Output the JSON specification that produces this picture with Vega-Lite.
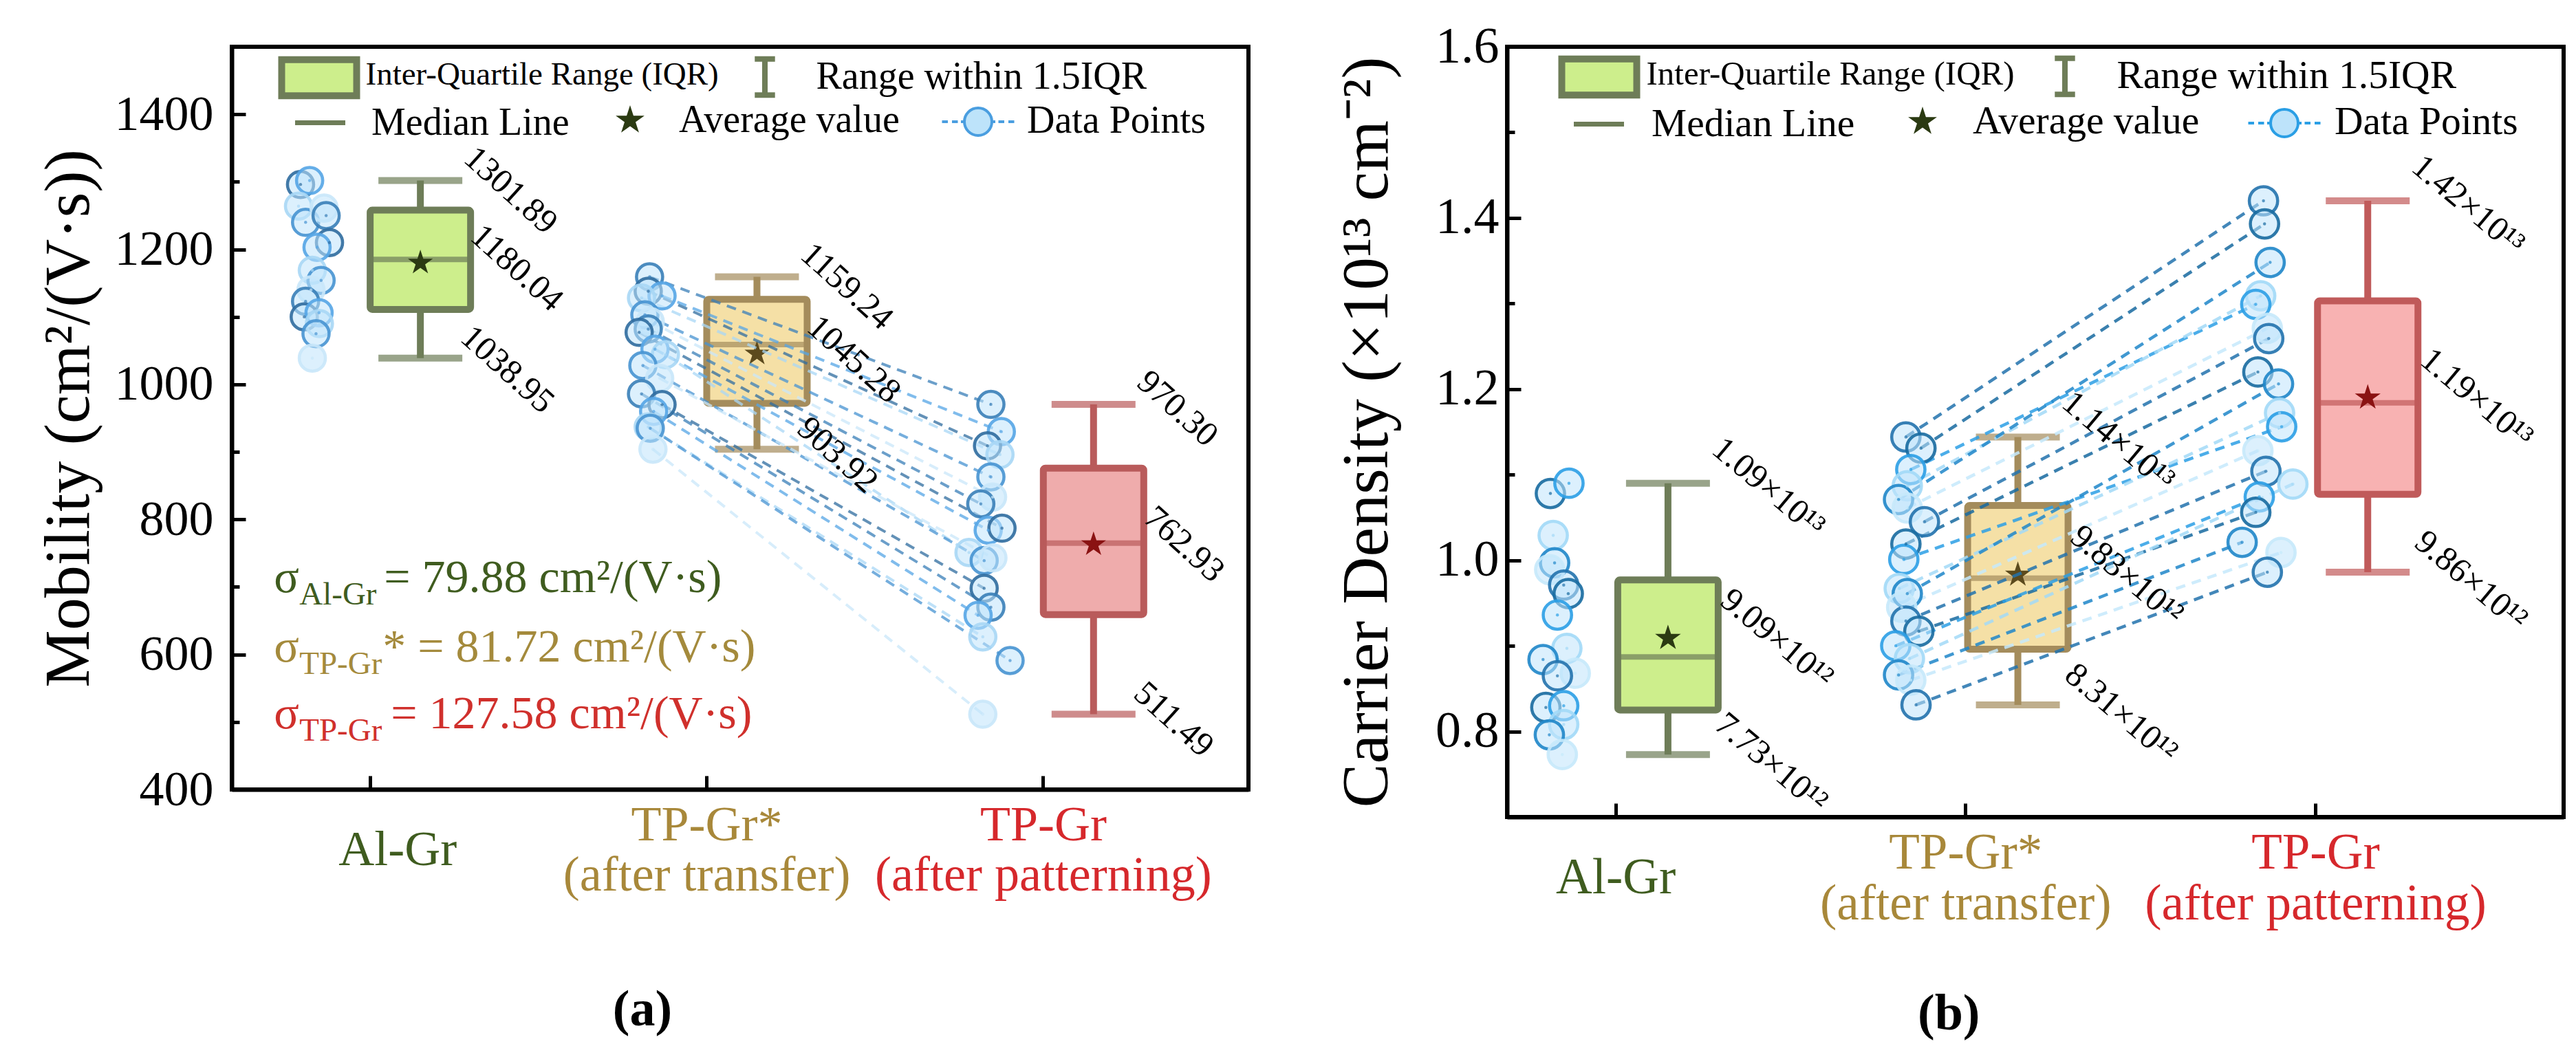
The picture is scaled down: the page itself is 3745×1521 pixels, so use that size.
{
  "$schema": "https://vega.github.io/schema/vega-lite/v6.json",
  "background": "white",
  "padding": {"left": 50, "top": 28, "right": 5, "bottom": 5},
  "bounds": "flush",
  "spacing": 376,
  "config": {
    "font": "Liberation Serif",
    "view": {"stroke": "black", "strokeWidth": 6},
    "axis": {"labelFont": "Liberation Serif", "titleFont": "Liberation Serif", "titleFontWeight": "normal", "grid": false, "domainColor": "black", "domainWidth": 6, "tickColor": "black", "tickWidth": 5, "labelColor": "black", "titleColor": "black", "labelFlush": false, "labelOverlap": false, "labelBound": false, "labelLimit": 3000},
    "legend": {"labelFont": "Liberation Serif", "labelColor": "black", "labelLimit": 3000, "padding": 0, "symbolOpacity": 1},
    "title": {"font": "Liberation Serif", "color": "black"},
    "text": {"font": "Liberation Serif"}
  },
  "datasets": {
    "sa": [
      {"g": 1, "grp": "Al-Gr", "min": 1038.95, "q1": 1111, "med": 1185, "q3": 1258, "max": 1301.89, "mean": 1180.04, "tmin": "1038.95", "tmean": "1180.04", "tmax": "1301.89"},
      {"g": 2, "grp": "TP-Gr*", "min": 903.92, "q1": 972, "med": 1059, "q3": 1126, "max": 1159.24, "mean": 1045.28, "tmin": "903.92", "tmean": "1045.28", "tmax": "1159.24"},
      {"g": 3, "grp": "TP-Gr", "min": 511.49, "q1": 659, "med": 765, "q3": 876, "max": 970.30, "mean": 762.93, "tmin": "511.49", "tmean": "762.93", "tmax": "970.30"}
    ],
    "sb": [
      {"g": 1, "grp": "Al-Gr", "min": 0.773, "q1": 0.825, "med": 0.887, "q3": 0.977, "max": 1.09, "mean": 0.909, "tmin": "7.73×10¹²", "tmean": "9.09×10¹²", "tmax": "1.09×10¹³"},
      {"g": 2, "grp": "TP-Gr*", "min": 0.831, "q1": 0.896, "med": 0.979, "q3": 1.064, "max": 1.144, "mean": 0.983, "tmin": "8.31×10¹²", "tmean": "9.83×10¹²", "tmax": "1.14×10¹³"},
      {"g": 3, "grp": "TP-Gr", "min": 0.986, "q1": 1.077, "med": 1.184, "q3": 1.303, "max": 1.42, "mean": 1.19, "tmin": "9.86×10¹²", "tmean": "1.19×10¹³", "tmax": "1.42×10¹³"}
    ],
    "sig": [
      {"grp": "Al-Gr", "sub": "Al-Gr", "rest": "= 79.88 cm²/(V·s)"},
      {"grp": "TP-Gr*", "sub": "TP-Gr", "rest": "* = 81.72 cm²/(V·s)"},
      {"grp": "TP-Gr", "sub": "TP-Gr", "rest": "= 127.58 cm²/(V·s)"}
    ],
    "leg": [{"k": "Inter-Quartile Range (IQR)"}, {"k": "Range within 1.5IQR"}, {"k": "Median Line"}, {"k": "Average value"}, {"k": "Data Points"}],
    "pa": [
      {"grp": "Al-Gr", "id": "A01", "x": 0.644, "v": 1296},
      {"grp": "Al-Gr", "id": "A02", "x": 0.671, "v": 1301.89},
      {"grp": "Al-Gr", "id": "A03", "x": 0.638, "v": 1264},
      {"grp": "Al-Gr", "id": "A04", "x": 0.659, "v": 1240},
      {"grp": "Al-Gr", "id": "A05", "x": 0.714, "v": 1261},
      {"grp": "Al-Gr", "id": "A06", "x": 0.72, "v": 1250},
      {"grp": "Al-Gr", "id": "A07", "x": 0.73, "v": 1210},
      {"grp": "Al-Gr", "id": "A08", "x": 0.693, "v": 1203},
      {"grp": "Al-Gr", "id": "A09", "x": 0.679, "v": 1169},
      {"grp": "Al-Gr", "id": "A10", "x": 0.705, "v": 1154},
      {"grp": "Al-Gr", "id": "A11", "x": 0.675, "v": 1140},
      {"grp": "Al-Gr", "id": "A12", "x": 0.659, "v": 1123},
      {"grp": "Al-Gr", "id": "A13", "x": 0.655, "v": 1100},
      {"grp": "Al-Gr", "id": "A14", "x": 0.699, "v": 1106},
      {"grp": "Al-Gr", "id": "A15", "x": 0.70, "v": 1090},
      {"grp": "Al-Gr", "id": "A16", "x": 0.69, "v": 1075},
      {"grp": "Al-Gr", "id": "A17", "x": 0.679, "v": 1038.95},
      {"grp": "TP-Gr*", "id": "P01", "x": 1.681, "v": 1159.24},
      {"grp": "TP-Gr*", "id": "P02", "x": 1.677, "v": 1138},
      {"grp": "TP-Gr*", "id": "P03", "x": 1.718, "v": 1131},
      {"grp": "TP-Gr*", "id": "P04", "x": 1.657, "v": 1128},
      {"grp": "TP-Gr*", "id": "P05", "x": 1.667, "v": 1103},
      {"grp": "TP-Gr*", "id": "P06", "x": 1.683, "v": 1093},
      {"grp": "TP-Gr*", "id": "P07", "x": 1.677, "v": 1082},
      {"grp": "TP-Gr*", "id": "P08", "x": 1.650, "v": 1077},
      {"grp": "TP-Gr*", "id": "P09", "x": 1.697, "v": 1052},
      {"grp": "TP-Gr*", "id": "P10", "x": 1.728, "v": 1044},
      {"grp": "TP-Gr*", "id": "P11", "x": 1.661, "v": 1028},
      {"grp": "TP-Gr*", "id": "P12", "x": 1.711, "v": 1009},
      {"grp": "TP-Gr*", "id": "P13", "x": 1.657, "v": 986},
      {"grp": "TP-Gr*", "id": "P14", "x": 1.718, "v": 970},
      {"grp": "TP-Gr*", "id": "P15", "x": 1.693, "v": 960},
      {"grp": "TP-Gr*", "id": "P16", "x": 1.677, "v": 937},
      {"grp": "TP-Gr*", "id": "P17", "x": 1.683, "v": 935},
      {"grp": "TP-Gr*", "id": "P18", "x": 1.691, "v": 903.92},
      {"grp": "TP-Gr", "id": "P01", "x": 2.695, "v": 970.30},
      {"grp": "TP-Gr", "id": "P03", "x": 2.726, "v": 930},
      {"grp": "TP-Gr", "id": "P02", "x": 2.685, "v": 909},
      {"grp": "TP-Gr", "id": "P04", "x": 2.722, "v": 896},
      {"grp": "TP-Gr", "id": "P05", "x": 2.695, "v": 863},
      {"grp": "TP-Gr", "id": "P06", "x": 2.70, "v": 833},
      {"grp": "TP-Gr", "id": "P07", "x": 2.665, "v": 823},
      {"grp": "TP-Gr", "id": "P09", "x": 2.687, "v": 784},
      {"grp": "TP-Gr", "id": "P08", "x": 2.728, "v": 787},
      {"grp": "TP-Gr", "id": "P10", "x": 2.630, "v": 751},
      {"grp": "TP-Gr", "id": "P11", "x": 2.675, "v": 739},
      {"grp": "TP-Gr", "id": "P12", "x": 2.701, "v": 743},
      {"grp": "TP-Gr", "id": "P14", "x": 2.675, "v": 698},
      {"grp": "TP-Gr", "id": "P13", "x": 2.695, "v": 670},
      {"grp": "TP-Gr", "id": "P15", "x": 2.657, "v": 658},
      {"grp": "TP-Gr", "id": "P16", "x": 2.671, "v": 626},
      {"grp": "TP-Gr", "id": "P17", "x": 2.752, "v": 591},
      {"grp": "TP-Gr", "id": "P18", "x": 2.671, "v": 511.49}
    ],
    "pb": [
      {"grp": "Al-Gr", "id": "B01", "x": 0.664, "v": 1.078},
      {"grp": "Al-Gr", "id": "B02", "x": 0.717, "v": 1.09},
      {"grp": "Al-Gr", "id": "B03", "x": 0.672, "v": 1.029},
      {"grp": "Al-Gr", "id": "B04", "x": 0.676, "v": 0.997},
      {"grp": "Al-Gr", "id": "B05", "x": 0.662, "v": 0.989},
      {"grp": "Al-Gr", "id": "B06", "x": 0.702, "v": 0.971},
      {"grp": "Al-Gr", "id": "B07", "x": 0.715, "v": 0.961},
      {"grp": "Al-Gr", "id": "B08", "x": 0.684, "v": 0.936},
      {"grp": "Al-Gr", "id": "B09", "x": 0.711, "v": 0.897},
      {"grp": "Al-Gr", "id": "B10", "x": 0.643, "v": 0.884},
      {"grp": "Al-Gr", "id": "B11", "x": 0.735, "v": 0.868},
      {"grp": "Al-Gr", "id": "B12", "x": 0.684, "v": 0.865},
      {"grp": "Al-Gr", "id": "B13", "x": 0.651, "v": 0.828},
      {"grp": "Al-Gr", "id": "B14", "x": 0.702, "v": 0.830},
      {"grp": "Al-Gr", "id": "B15", "x": 0.702, "v": 0.808},
      {"grp": "Al-Gr", "id": "B16", "x": 0.661, "v": 0.796},
      {"grp": "Al-Gr", "id": "B17", "x": 0.698, "v": 0.773},
      {"grp": "TP-Gr*", "id": "Q01", "x": 1.680, "v": 1.144},
      {"grp": "TP-Gr*", "id": "Q02", "x": 1.723, "v": 1.131},
      {"grp": "TP-Gr*", "id": "Q03", "x": 1.694, "v": 1.106},
      {"grp": "TP-Gr*", "id": "Q04", "x": 1.684, "v": 1.087},
      {"grp": "TP-Gr*", "id": "Q05", "x": 1.659, "v": 1.071},
      {"grp": "TP-Gr*", "id": "Q06", "x": 1.684, "v": 1.061},
      {"grp": "TP-Gr*", "id": "Q07", "x": 1.733, "v": 1.045},
      {"grp": "TP-Gr*", "id": "Q08", "x": 1.680, "v": 1.019},
      {"grp": "TP-Gr*", "id": "Q09", "x": 1.674, "v": 1.001},
      {"grp": "TP-Gr*", "id": "Q10", "x": 1.661, "v": 0.967},
      {"grp": "TP-Gr*", "id": "Q11", "x": 1.684, "v": 0.961},
      {"grp": "TP-Gr*", "id": "Q12", "x": 1.668, "v": 0.945},
      {"grp": "TP-Gr*", "id": "Q13", "x": 1.680, "v": 0.929},
      {"grp": "TP-Gr*", "id": "Q14", "x": 1.717, "v": 0.917},
      {"grp": "TP-Gr*", "id": "Q15", "x": 1.651, "v": 0.900},
      {"grp": "TP-Gr*", "id": "Q16", "x": 1.690, "v": 0.885},
      {"grp": "TP-Gr*", "id": "Q17", "x": 1.659, "v": 0.866},
      {"grp": "TP-Gr*", "id": "Q18", "x": 1.694, "v": 0.860},
      {"grp": "TP-Gr*", "id": "Q19", "x": 1.709, "v": 0.831},
      {"grp": "TP-Gr", "id": "Q01", "x": 2.702, "v": 1.42},
      {"grp": "TP-Gr", "id": "Q02", "x": 2.705, "v": 1.393},
      {"grp": "TP-Gr", "id": "Q05", "x": 2.721, "v": 1.348},
      {"grp": "TP-Gr", "id": "Q04", "x": 2.694, "v": 1.309},
      {"grp": "TP-Gr", "id": "Q03", "x": 2.680, "v": 1.299},
      {"grp": "TP-Gr", "id": "Q06", "x": 2.713, "v": 1.271},
      {"grp": "TP-Gr", "id": "Q07", "x": 2.717, "v": 1.259},
      {"grp": "TP-Gr", "id": "Q08", "x": 2.686, "v": 1.220},
      {"grp": "TP-Gr", "id": "Q11", "x": 2.745, "v": 1.206},
      {"grp": "TP-Gr", "id": "Q10", "x": 2.748, "v": 1.172},
      {"grp": "TP-Gr", "id": "Q09", "x": 2.754, "v": 1.156},
      {"grp": "TP-Gr", "id": "Q12", "x": 2.686, "v": 1.128},
      {"grp": "TP-Gr", "id": "Q13", "x": 2.709, "v": 1.104},
      {"grp": "TP-Gr", "id": "Q16", "x": 2.786, "v": 1.089},
      {"grp": "TP-Gr", "id": "Q15", "x": 2.690, "v": 1.074},
      {"grp": "TP-Gr", "id": "Q14", "x": 2.680, "v": 1.056},
      {"grp": "TP-Gr", "id": "Q17", "x": 2.641, "v": 1.021},
      {"grp": "TP-Gr", "id": "Q18", "x": 2.752, "v": 1.009},
      {"grp": "TP-Gr", "id": "Q19", "x": 2.713, "v": 0.986}
    ]
  },
  "hconcat": [
    {
      "width": 1478,
      "height": 1080,
      "title": {"text": "(a)", "orient": "bottom", "frame": "bounds", "anchor": "middle", "fontSize": 74, "fontWeight": "bold", "offset": 125},
      "resolve": {"scale": {"fill": "independent", "stroke": "independent", "color": "independent", "shape": "independent"}, "legend": {"shape": "independent"}},
      "layer": [
        {
          "data": {"name": "sa"},
          "mark": {"type": "rule", "strokeWidth": 10},
          "encoding": {
            "x": {"field": "g", "type": "quantitative", "scale": {"domain": [0.45, 3.45], "nice": false, "zero": false},
              "axis": {"values": [0.85, 1.85, 2.85], "title": null, "tickSize": -20, "labelFont": "Liberation Serif", "labelFontSize": 72, "labelLineHeight": 73, "labelBaseline": "middle", "labelLimit": 3000,
                "labelPadding": {"condition": {"test": "datum.value < 1.5", "value": 107}, "value": 71},
                "labelExpr": "datum.value < 1.5 ? 'Al-Gr' : datum.value < 2.5 ? ['TP-Gr*', '(after transfer)'] : ['TP-Gr', '(after patterning)']",
                "labelColor": {"condition": [{"test": "datum.value < 1.5", "value": "#3f5c1f"}, {"test": "datum.value < 2.5", "value": "#a8883a"}], "value": "#d6282c"},
                "labelOffset": {"condition": {"test": "datum.value < 1.5", "value": 40}, "value": 0}}},
            "y": {"field": "min", "type": "quantitative", "scale": {"domain": [400, 1500], "nice": false, "zero": false},
              "axis": {"values": [400, 500, 600, 700, 800, 900, 1000, 1100, 1200, 1300, 1400], "format": "d", "labelExpr": "datum.value % 200 === 0 ? datum.label : ''",
                "title": "Mobility (cm²/(V·s))", "titleFont": "Liberation Serif", "titleFontSize": 94, "titlePadding": 18, "labelFont": "Liberation Serif", "labelFontSize": 72,
                "tickSize": {"condition": {"test": "datum.value % 200 !== 0", "value": -11}, "value": -20}, "labelPadding": 47}},
            "y2": {"field": "max"},
            "stroke": {"field": "grp", "type": "nominal", "scale": {"domain": ["Al-Gr", "TP-Gr*", "TP-Gr"], "range": ["#6e7d58", "#a48c5c", "#b95b5b"]}, "legend": null}
          }
        },
        {
          "data": {"name": "sa"},
          "mark": {"type": "bar", "width": 146, "strokeWidth": 10, "cornerRadius": 3},
          "encoding": {
            "x": {"field": "g", "type": "quantitative"},
            "y": {"field": "q1", "type": "quantitative", "scale": {"zero": false}},
            "y2": {"field": "q3"},
            "fill": {"field": "grp", "type": "nominal", "scale": {"domain": ["Al-Gr", "TP-Gr*", "TP-Gr"], "range": ["#cdee8c", "#f5e0a6", "#efacac"]}, "legend": null},
            "stroke": {"field": "grp", "type": "nominal", "scale": {"domain": ["Al-Gr", "TP-Gr*", "TP-Gr"], "range": ["#6e7d58", "#a48c5c", "#b95b5b"]}, "legend": null}
          }
        },
        {
          "data": {"name": "sa"},
          "mark": {"type": "tick", "orient": "horizontal", "size": 122, "thickness": 10},
          "encoding": {
            "x": {"field": "g", "type": "quantitative"},
            "y": {"field": "max", "type": "quantitative"},
            "color": {"field": "grp", "type": "nominal", "scale": {"domain": ["Al-Gr", "TP-Gr*", "TP-Gr"], "range": ["#6e7d58", "#a48c5c", "#b95b5b"]}, "legend": null}
          }
        },
        {
          "data": {"name": "sa"},
          "mark": {"type": "tick", "orient": "horizontal", "size": 122, "thickness": 10},
          "encoding": {
            "x": {"field": "g", "type": "quantitative"},
            "y": {"field": "min", "type": "quantitative"},
            "color": {"field": "grp", "type": "nominal", "scale": {"domain": ["Al-Gr", "TP-Gr*", "TP-Gr"], "range": ["#6e7d58", "#a48c5c", "#b95b5b"]}, "legend": null}
          }
        },
        {
          "data": {"name": "sa"},
          "mark": {"type": "tick", "orient": "horizontal", "size": 146, "thickness": 8},
          "encoding": {
            "x": {"field": "g", "type": "quantitative"},
            "y": {"field": "med", "type": "quantitative"},
            "color": {"field": "grp", "type": "nominal", "scale": {"domain": ["Al-Gr", "TP-Gr*", "TP-Gr"], "range": ["#6e7d58", "#a48c5c", "#b95b5b"]}, "legend": null}
          }
        },
        {
          "data": {"name": "sa"},
          "mark": {"type": "point", "filled": true, "size": 1450, "strokeWidth": 0, "opacity": 1, "shape": "M0,-1L0.2245,-0.309L0.951,-0.309L0.363,0.118L0.588,0.809L0,0.382L-0.588,0.809L-0.363,0.118L-0.951,-0.309L-0.2245,-0.309Z"},
          "encoding": {
            "x": {"field": "g", "type": "quantitative"},
            "y": {"field": "mean", "type": "quantitative"},
            "fill": {"field": "grp", "type": "nominal", "scale": {"domain": ["Al-Gr", "TP-Gr*", "TP-Gr"], "range": ["#2b3a12", "#5c4a1d", "#8a1212"]}, "legend": null}
          }
        },
        {
          "data": {"name": "pa"},
          "mark": {"type": "line", "strokeDash": [14, 10], "strokeWidth": 4, "strokeOpacity": 0.75},
          "encoding": {
            "x": {"field": "x", "type": "quantitative"},
            "y": {"field": "v", "type": "quantitative"},
            "stroke": {"field": "id", "type": "nominal", "scale": {"range": ["#2f6c9f", "#55a5e6", "#a8d7f5", "#4793d2", "#c9e7fa", "#3a7fb8"]}, "legend": null}
          }
        },
        {
          "data": {"name": "pa"},
          "mark": {"type": "point", "shape": "circle", "filled": true, "fill": "#bfe4fb", "fillOpacity": 0.55, "size": 1450, "strokeWidth": 4.5, "strokeOpacity": 0.9},
          "encoding": {
            "x": {"field": "x", "type": "quantitative"},
            "y": {"field": "v", "type": "quantitative"},
            "stroke": {"field": "id", "type": "nominal", "scale": {"range": ["#2f6c9f", "#55a5e6", "#a8d7f5", "#4793d2", "#c9e7fa", "#3a7fb8"]}, "legend": null}
          }
        },
        {
          "data": {"name": "pa"},
          "mark": {"type": "point", "shape": "circle", "filled": true, "size": 20, "strokeWidth": 0},
          "encoding": {
            "x": {"field": "x", "type": "quantitative"},
            "y": {"field": "v", "type": "quantitative"},
            "fill": {"field": "id", "type": "nominal", "scale": {"range": ["#2f6c9f", "#55a5e6", "#a8d7f5", "#4793d2", "#c9e7fa", "#3a7fb8"]}, "legend": null}
          }
        },
        {
          "data": {"name": "sa"},
          "mark": {"type": "text", "font": "Liberation Serif", "angle": 42, "align": "left", "baseline": "middle", "fontSize": 50, "dx": 26, "dy": -77, "color": "black"},
          "encoding": {
            "x": {"field": "g", "type": "quantitative"},
            "y": {"field": "max", "type": "quantitative"},
            "text": {"field": "tmax"}
          }
        },
        {
          "data": {"name": "sa"},
          "mark": {"type": "text", "font": "Liberation Serif", "angle": 42, "align": "left", "baseline": "middle", "fontSize": 50, "dx": 29, "dy": -88, "color": "black"},
          "encoding": {
            "x": {"field": "g", "type": "quantitative"},
            "y": {"field": "mean", "type": "quantitative"},
            "text": {"field": "tmean"}
          }
        },
        {
          "data": {"name": "sa"},
          "mark": {"type": "text", "font": "Liberation Serif", "angle": 42, "align": "left", "baseline": "middle", "fontSize": 50, "dx": 24, "dy": -72, "color": "black"},
          "encoding": {
            "x": {"field": "g", "type": "quantitative"},
            "y": {"field": "min", "type": "quantitative"},
            "text": {"field": "tmin"}
          }
        },
        {
          "data": {"name": "sig"},
          "transform": [{"filter": "datum.grp === 'Al-Gr'"}],
          "encoding": {"x": {"datum": 0.565, "type": "quantitative"}, "y": {"datum": 712.7, "type": "quantitative"}},
          "layer": [
            {"mark": {"type": "text", "font": "Liberation Serif", "align": "left", "baseline": "middle", "fontSize": 68, "color": "#3f5c1f"}, "encoding": {"text": {"value": "σ"}}},
            {"mark": {"type": "text", "font": "Liberation Serif", "align": "left", "baseline": "middle", "fontSize": 47, "dx": 37, "dy": 24, "color": "#3f5c1f"}, "encoding": {"text": {"field": "sub"}}},
            {"mark": {"type": "text", "font": "Liberation Serif", "align": "left", "baseline": "middle", "fontSize": 68, "dx": 160, "color": "#3f5c1f"}, "encoding": {"text": {"field": "rest"}}}
          ]
        },
        {
          "data": {"name": "sig"},
          "transform": [{"filter": "datum.grp === 'TP-Gr*'"}],
          "encoding": {"x": {"datum": 0.565, "type": "quantitative"}, "y": {"datum": 610, "type": "quantitative"}},
          "layer": [
            {"mark": {"type": "text", "font": "Liberation Serif", "align": "left", "baseline": "middle", "fontSize": 68, "color": "#a48a3c"}, "encoding": {"text": {"value": "σ"}}},
            {"mark": {"type": "text", "font": "Liberation Serif", "align": "left", "baseline": "middle", "fontSize": 47, "dx": 37, "dy": 24, "color": "#a48a3c"}, "encoding": {"text": {"field": "sub"}}},
            {"mark": {"type": "text", "font": "Liberation Serif", "align": "left", "baseline": "middle", "fontSize": 68, "dx": 158, "color": "#a48a3c"}, "encoding": {"text": {"field": "rest"}}}
          ]
        },
        {
          "data": {"name": "sig"},
          "transform": [{"filter": "datum.grp === 'TP-Gr'"}],
          "encoding": {"x": {"datum": 0.565, "type": "quantitative"}, "y": {"datum": 511, "type": "quantitative"}},
          "layer": [
            {"mark": {"type": "text", "font": "Liberation Serif", "align": "left", "baseline": "middle", "fontSize": 68, "color": "#d0302c"}, "encoding": {"text": {"value": "σ"}}},
            {"mark": {"type": "text", "font": "Liberation Serif", "align": "left", "baseline": "middle", "fontSize": 47, "dx": 37, "dy": 24, "color": "#d0302c"}, "encoding": {"text": {"field": "sub"}}},
            {"mark": {"type": "text", "font": "Liberation Serif", "align": "left", "baseline": "middle", "fontSize": 68, "dx": 170, "color": "#d0302c"}, "encoding": {"text": {"field": "rest"}}}
          ]
        },
        {
          "data": {"name": "leg"}, "transform": [{"filter": "false"}],
          "mark": {"type": "point", "filled": true, "fill": "#cdee8c", "opacity": 1},
          "encoding": {"shape": {"field": "k", "type": "nominal", "scale": {"domain": ["Inter-Quartile Range (IQR)"], "range": ["M-1,-0.48H1V0.48H-1Z"]},
            "legend": {"orient": "none", "legendX": 67.5, "legendY": -14.5, "title": null, "symbolSize": 11881, "labelFontSize": 47, "labelOffset": 16, "symbolFillColor": "#cdee8c"}}}
        },
        {
          "data": {"name": "leg"}, "transform": [{"filter": "false"}],
          "mark": {"type": "point", "filled": false, "stroke": "#6e7d58", "strokeWidth": 10, "opacity": 1},
          "encoding": {"shape": {"field": "k", "type": "nominal", "scale": {"domain": ["Inter-Quartile Range (IQR)"], "range": ["M-1,-0.48H1V0.48H-1Z"]},
            "legend": {"orient": "none", "legendX": 67.5, "legendY": -14.5, "title": null, "symbolSize": 11881, "labelFontSize": 47, "labelOffset": 16, "labelExpr": "''", "symbolStrokeColor": "#6e7d58", "symbolStrokeWidth": 10}}}
        },
        {
          "data": {"name": "leg"}, "transform": [{"filter": "false"}],
          "mark": {"type": "point", "filled": false, "stroke": "#6e7d58", "strokeWidth": 8, "opacity": 1},
          "encoding": {"shape": {"field": "k", "type": "nominal", "scale": {"domain": ["Range within 1.5IQR"], "range": ["M-0.27,-0.48H0.27M0,-0.48V0.48M-0.27,0.48H0.27"]},
            "legend": {"orient": "none", "legendX": 716.5, "legendY": -14.5, "title": null, "symbolSize": 11881, "labelFontSize": 56, "labelOffset": 16, "symbolStrokeColor": "#6e7d58", "symbolStrokeWidth": 8}}}
        },
        {
          "data": {"name": "leg"}, "transform": [{"filter": "false"}],
          "mark": {"type": "point", "filled": false, "stroke": "#6e7d58", "strokeWidth": 7, "opacity": 1},
          "encoding": {"shape": {"field": "k", "type": "nominal", "scale": {"domain": ["Median Line"], "range": ["M-0.73,0H0.73"]},
            "legend": {"orient": "none", "legendX": 75, "legendY": 57, "title": null, "symbolSize": 10000, "labelFontSize": 56, "labelOffset": 21, "symbolStrokeColor": "#6e7d58", "symbolStrokeWidth": 7}}}
        },
        {
          "data": {"name": "leg"}, "transform": [{"filter": "false"}],
          "mark": {"type": "point", "filled": true, "fill": "#2b3a12", "strokeWidth": 0, "opacity": 1},
          "encoding": {"shape": {"field": "k", "type": "nominal", "scale": {"domain": ["Average value"], "range": ["M0,-0.44L0.099,-0.136L0.418,-0.136L0.16,0.052L0.259,0.356L0,0.168L-0.259,0.356L-0.16,0.052L-0.418,-0.136L-0.099,-0.136Z"]},
            "legend": {"orient": "none", "legendX": 529, "legendY": 57, "title": null, "symbolSize": 10000, "labelFontSize": 56, "labelOffset": 21, "symbolFillColor": "#2b3a12", "symbolStrokeWidth": 0}}}
        },
        {
          "data": {"name": "leg"}, "transform": [{"filter": "false"}],
          "mark": {"type": "point", "filled": true, "fill": "#bde3fa", "opacity": 1},
          "encoding": {"shape": {"field": "k", "type": "nominal", "scale": {"domain": ["Data Points"], "range": ["M-0.4,0A0.4,0.4 0 1,0 0.4,0A0.4,0.4 0 1,0 -0.4,0Z"]},
            "legend": {"orient": "none", "legendX": 1033, "legendY": 57, "title": null, "symbolSize": 10000, "labelFontSize": 56, "labelOffset": 21, "symbolFillColor": "#bde3fa"}}}
        },
        {
          "data": {"name": "leg"}, "transform": [{"filter": "false"}],
          "mark": {"type": "point", "filled": false, "stroke": "#4a9ee0", "strokeWidth": 4, "opacity": 1},
          "encoding": {"shape": {"field": "k", "type": "nominal", "scale": {"domain": ["Data Points"], "range": ["M-1.05,0H-0.88M-0.76,0H-0.59M-0.5,0H-0.42M0.42,0H0.5M0.59,0H0.76M0.88,0H1.05M-0.4,0A0.4,0.4 0 1,0 0.4,0A0.4,0.4 0 1,0 -0.4,0Z"]},
            "legend": {"orient": "none", "legendX": 1033, "legendY": 57, "title": null, "symbolSize": 10000, "labelFontSize": 56, "labelOffset": 21, "labelExpr": "''", "symbolStrokeColor": "#4a9ee0", "symbolStrokeWidth": 4}}}
        }
      ]
    },
    {
      "width": 1536,
      "height": 1120,
      "title": {"text": "(b)", "orient": "bottom", "frame": "bounds", "anchor": "middle", "fontSize": 74, "fontWeight": "bold", "offset": 88},
      "resolve": {"scale": {"fill": "independent", "stroke": "independent", "color": "independent", "shape": "independent"}, "legend": {"shape": "independent"}},
      "layer": [
        {
          "data": {"name": "sb"},
          "mark": {"type": "rule", "strokeWidth": 10},
          "encoding": {
            "x": {"field": "g", "type": "quantitative", "scale": {"domain": [0.55, 3.55], "nice": false, "zero": false},
              "axis": {"values": [0.85, 1.85, 2.85], "title": null, "tickSize": -20, "labelFont": "Liberation Serif", "labelFontSize": 73, "labelLineHeight": 74, "labelBaseline": "middle", "labelLimit": 3000,
                "labelPadding": {"condition": {"test": "datum.value < 1.5", "value": 108}, "value": 72},
                "labelExpr": "datum.value < 1.5 ? 'Al-Gr' : datum.value < 2.5 ? ['TP-Gr*', '(after transfer)'] : ['TP-Gr', '(after patterning)']",
                "labelColor": {"condition": [{"test": "datum.value < 1.5", "value": "#3f5c1f"}, {"test": "datum.value < 2.5", "value": "#a8883a"}], "value": "#d6282c"}}},
            "y": {"field": "min", "type": "quantitative", "scale": {"domain": [0.7, 1.6], "nice": false, "zero": false},
              "axis": {"values": [0.8, 0.9, 1.0, 1.1, 1.2, 1.3, 1.4, 1.5, 1.6], "format": ".1f", "labelExpr": "round(datum.value * 10) % 2 === 0 ? datum.label : ''",
                "title": "Carrier Density (×10¹³ cm⁻²)", "titleFont": "Liberation Serif", "titleFontSize": 96, "titlePadding": 50, "labelFont": "Liberation Serif", "labelFontSize": 74,
                "tickSize": {"condition": {"test": "round(datum.value * 10) % 2 !== 0", "value": -11}, "value": -20}, "labelPadding": 32}},
            "y2": {"field": "max"},
            "stroke": {"field": "grp", "type": "nominal", "scale": {"domain": ["Al-Gr", "TP-Gr*", "TP-Gr"], "range": ["#6e7d58", "#a48c5c", "#c05a5a"]}, "legend": null}
          }
        },
        {
          "data": {"name": "sb"},
          "mark": {"type": "bar", "width": 146, "strokeWidth": 10, "cornerRadius": 3},
          "encoding": {
            "x": {"field": "g", "type": "quantitative"},
            "y": {"field": "q1", "type": "quantitative", "scale": {"zero": false}},
            "y2": {"field": "q3"},
            "fill": {"field": "grp", "type": "nominal", "scale": {"domain": ["Al-Gr", "TP-Gr*", "TP-Gr"], "range": ["#cdee8c", "#f5e0a6", "#f8b2b2"]}, "legend": null},
            "stroke": {"field": "grp", "type": "nominal", "scale": {"domain": ["Al-Gr", "TP-Gr*", "TP-Gr"], "range": ["#6e7d58", "#a48c5c", "#c05a5a"]}, "legend": null}
          }
        },
        {
          "data": {"name": "sb"},
          "mark": {"type": "tick", "orient": "horizontal", "size": 122, "thickness": 10},
          "encoding": {
            "x": {"field": "g", "type": "quantitative"},
            "y": {"field": "max", "type": "quantitative"},
            "color": {"field": "grp", "type": "nominal", "scale": {"domain": ["Al-Gr", "TP-Gr*", "TP-Gr"], "range": ["#6e7d58", "#a48c5c", "#c05a5a"]}, "legend": null}
          }
        },
        {
          "data": {"name": "sb"},
          "mark": {"type": "tick", "orient": "horizontal", "size": 122, "thickness": 10},
          "encoding": {
            "x": {"field": "g", "type": "quantitative"},
            "y": {"field": "min", "type": "quantitative"},
            "color": {"field": "grp", "type": "nominal", "scale": {"domain": ["Al-Gr", "TP-Gr*", "TP-Gr"], "range": ["#6e7d58", "#a48c5c", "#c05a5a"]}, "legend": null}
          }
        },
        {
          "data": {"name": "sb"},
          "mark": {"type": "tick", "orient": "horizontal", "size": 146, "thickness": 8},
          "encoding": {
            "x": {"field": "g", "type": "quantitative"},
            "y": {"field": "med", "type": "quantitative"},
            "color": {"field": "grp", "type": "nominal", "scale": {"domain": ["Al-Gr", "TP-Gr*", "TP-Gr"], "range": ["#6e7d58", "#a48c5c", "#c05a5a"]}, "legend": null}
          }
        },
        {
          "data": {"name": "sb"},
          "mark": {"type": "point", "filled": true, "size": 1550, "strokeWidth": 0, "opacity": 1, "shape": "M0,-1L0.2245,-0.309L0.951,-0.309L0.363,0.118L0.588,0.809L0,0.382L-0.588,0.809L-0.363,0.118L-0.951,-0.309L-0.2245,-0.309Z"},
          "encoding": {
            "x": {"field": "g", "type": "quantitative"},
            "y": {"field": "mean", "type": "quantitative"},
            "fill": {"field": "grp", "type": "nominal", "scale": {"domain": ["Al-Gr", "TP-Gr*", "TP-Gr"], "range": ["#2b3a12", "#5c4a1d", "#8a1212"]}, "legend": null}
          }
        },
        {
          "data": {"name": "pb"},
          "mark": {"type": "line", "strokeDash": [14, 10], "strokeWidth": 4.5, "strokeOpacity": 0.85},
          "encoding": {
            "x": {"field": "x", "type": "quantitative"},
            "y": {"field": "v", "type": "quantitative"},
            "stroke": {"field": "id", "type": "nominal", "scale": {"range": ["#176aa0", "#2b9fe5", "#a2d9f7", "#1f86c9", "#c6e9fb", "#2272ad"]}, "legend": null}
          }
        },
        {
          "data": {"name": "pb"},
          "mark": {"type": "point", "shape": "circle", "filled": true, "fill": "#bfe4fb", "fillOpacity": 0.55, "size": 1700, "strokeWidth": 4.5, "strokeOpacity": 0.9},
          "encoding": {
            "x": {"field": "x", "type": "quantitative"},
            "y": {"field": "v", "type": "quantitative"},
            "stroke": {"field": "id", "type": "nominal", "scale": {"range": ["#176aa0", "#2b9fe5", "#a2d9f7", "#1f86c9", "#c6e9fb", "#2272ad"]}, "legend": null}
          }
        },
        {
          "data": {"name": "pb"},
          "mark": {"type": "point", "shape": "circle", "filled": true, "size": 20, "strokeWidth": 0},
          "encoding": {
            "x": {"field": "x", "type": "quantitative"},
            "y": {"field": "v", "type": "quantitative"},
            "fill": {"field": "id", "type": "nominal", "scale": {"range": ["#176aa0", "#2b9fe5", "#a2d9f7", "#1f86c9", "#c6e9fb", "#2272ad"]}, "legend": null}
          }
        },
        {
          "data": {"name": "sb"},
          "mark": {"type": "text", "font": "Liberation Serif", "angle": 40, "align": "left", "baseline": "middle", "fontSize": 50, "dx": 18, "dy": -89, "color": "black"},
          "encoding": {
            "x": {"field": "g", "type": "quantitative"},
            "y": {"field": "max", "type": "quantitative"},
            "text": {"field": "tmax"}
          }
        },
        {
          "data": {"name": "sb"},
          "mark": {"type": "text", "font": "Liberation Serif", "angle": 40, "align": "left", "baseline": "middle", "fontSize": 50, "dx": 24, "dy": -101, "color": "black"},
          "encoding": {
            "x": {"field": "g", "type": "quantitative"},
            "y": {"field": "mean", "type": "quantitative"},
            "text": {"field": "tmean"}
          }
        },
        {
          "data": {"name": "sb"},
          "mark": {"type": "text", "font": "Liberation Serif", "angle": 40, "align": "left", "baseline": "middle", "fontSize": 50, "dx": 25, "dy": -87, "color": "black"},
          "encoding": {
            "x": {"field": "g", "type": "quantitative"},
            "y": {"field": "min", "type": "quantitative"},
            "text": {"field": "tmin"}
          }
        },
        {
          "data": {"name": "leg"}, "transform": [{"filter": "false"}],
          "mark": {"type": "point", "filled": true, "fill": "#cdee8c", "opacity": 1},
          "encoding": {"shape": {"field": "k", "type": "nominal", "scale": {"domain": ["Inter-Quartile Range (IQR)"], "range": ["M-1,-0.48H1V0.48H-1Z"]},
            "legend": {"orient": "none", "legendX": 74.5, "legendY": -15.5, "title": null, "symbolSize": 11881, "labelFontSize": 49, "labelOffset": 17, "symbolFillColor": "#cdee8c"}}}
        },
        {
          "data": {"name": "leg"}, "transform": [{"filter": "false"}],
          "mark": {"type": "point", "filled": false, "stroke": "#6e7d58", "strokeWidth": 10, "opacity": 1},
          "encoding": {"shape": {"field": "k", "type": "nominal", "scale": {"domain": ["Inter-Quartile Range (IQR)"], "range": ["M-1,-0.48H1V0.48H-1Z"]},
            "legend": {"orient": "none", "legendX": 74.5, "legendY": -15.5, "title": null, "symbolSize": 11881, "labelFontSize": 49, "labelOffset": 17, "labelExpr": "''", "symbolStrokeColor": "#6e7d58", "symbolStrokeWidth": 10}}}
        },
        {
          "data": {"name": "leg"}, "transform": [{"filter": "false"}],
          "mark": {"type": "point", "filled": false, "stroke": "#6e7d58", "strokeWidth": 8, "opacity": 1},
          "encoding": {"shape": {"field": "k", "type": "nominal", "scale": {"domain": ["Range within 1.5IQR"], "range": ["M-0.27,-0.48H0.27M0,-0.48V0.48M-0.27,0.48H0.27"]},
            "legend": {"orient": "none", "legendX": 752.5, "legendY": -15.5, "title": null, "symbolSize": 11881, "labelFontSize": 57.5, "labelOffset": 17, "symbolStrokeColor": "#6e7d58", "symbolStrokeWidth": 8}}}
        },
        {
          "data": {"name": "leg"}, "transform": [{"filter": "false"}],
          "mark": {"type": "point", "filled": false, "stroke": "#6e7d58", "strokeWidth": 7, "opacity": 1},
          "encoding": {"shape": {"field": "k", "type": "nominal", "scale": {"domain": ["Median Line"], "range": ["M-0.73,0H0.73"]},
            "legend": {"orient": "none", "legendX": 80, "legendY": 59, "title": null, "symbolSize": 10000, "labelFontSize": 57.5, "labelOffset": 23, "symbolStrokeColor": "#6e7d58", "symbolStrokeWidth": 7}}}
        },
        {
          "data": {"name": "leg"}, "transform": [{"filter": "false"}],
          "mark": {"type": "point", "filled": true, "fill": "#2b3a12", "strokeWidth": 0, "opacity": 1},
          "encoding": {"shape": {"field": "k", "type": "nominal", "scale": {"domain": ["Average value"], "range": ["M0,-0.44L0.099,-0.136L0.418,-0.136L0.16,0.052L0.259,0.356L0,0.168L-0.259,0.356L-0.16,0.052L-0.418,-0.136L-0.099,-0.136Z"]},
            "legend": {"orient": "none", "legendX": 554, "legendY": 59, "title": null, "symbolSize": 10000, "labelFontSize": 57.5, "labelOffset": 23, "symbolFillColor": "#2b3a12", "symbolStrokeWidth": 0}}}
        },
        {
          "data": {"name": "leg"}, "transform": [{"filter": "false"}],
          "mark": {"type": "point", "filled": true, "fill": "#bde3fa", "opacity": 1},
          "encoding": {"shape": {"field": "k", "type": "nominal", "scale": {"domain": ["Data Points"], "range": ["M-0.4,0A0.4,0.4 0 1,0 0.4,0A0.4,0.4 0 1,0 -0.4,0Z"]},
            "legend": {"orient": "none", "legendX": 1078, "legendY": 59, "title": null, "symbolSize": 10000, "labelFontSize": 57.5, "labelOffset": 23, "symbolFillColor": "#bde3fa"}}}
        },
        {
          "data": {"name": "leg"}, "transform": [{"filter": "false"}],
          "mark": {"type": "point", "filled": false, "stroke": "#2b9fe5", "strokeWidth": 4, "opacity": 1},
          "encoding": {"shape": {"field": "k", "type": "nominal", "scale": {"domain": ["Data Points"], "range": ["M-1.05,0H-0.88M-0.76,0H-0.59M-0.5,0H-0.42M0.42,0H0.5M0.59,0H0.76M0.88,0H1.05M-0.4,0A0.4,0.4 0 1,0 0.4,0A0.4,0.4 0 1,0 -0.4,0Z"]},
            "legend": {"orient": "none", "legendX": 1078, "legendY": 59, "title": null, "symbolSize": 10000, "labelFontSize": 57.5, "labelOffset": 23, "labelExpr": "''", "symbolStrokeColor": "#2b9fe5", "symbolStrokeWidth": 4}}}
        }
      ]
    }
  ]
}
